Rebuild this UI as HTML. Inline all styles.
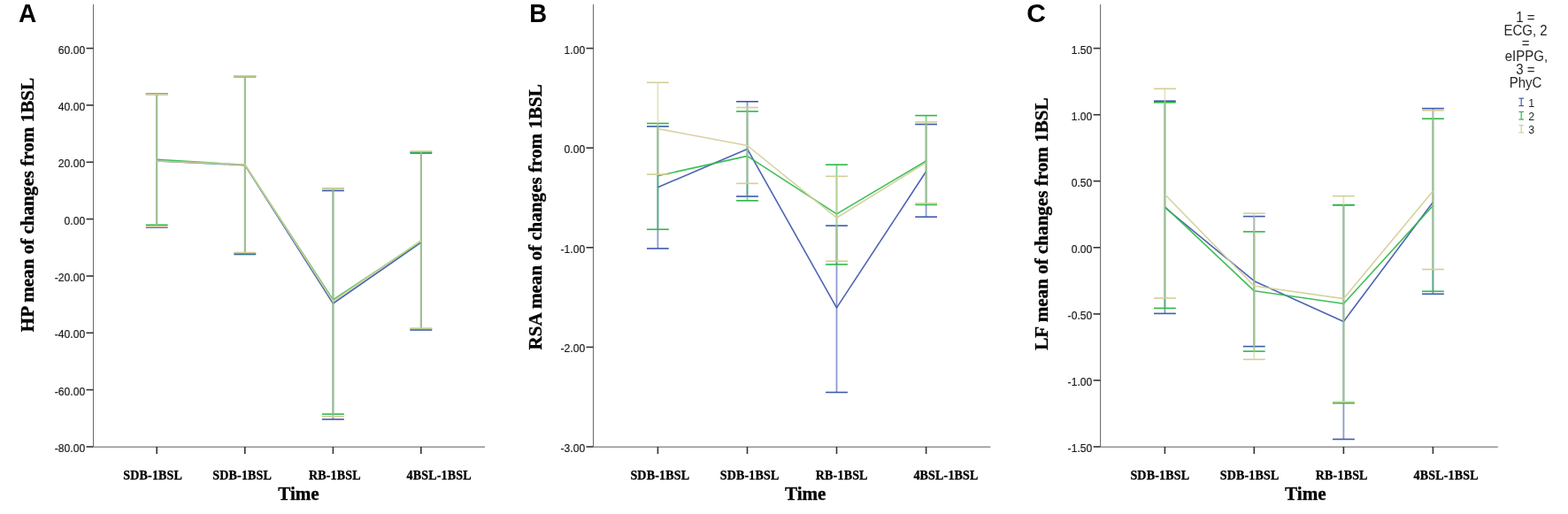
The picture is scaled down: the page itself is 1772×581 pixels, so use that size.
<!DOCTYPE html>
<html><head><meta charset="utf-8"><title>Mean changes from 1BSL</title>
<style>
html,body{margin:0;padding:0;background:#fff;}
body{width:1772px;height:581px;overflow:hidden;}
svg{display:block;}
.tl{font-family:"Liberation Sans",Arial,sans-serif;font-size:12.8px;fill:#1a1a1a;stroke:#1a1a1a;stroke-width:0.2px;}
.xl{font-family:"Liberation Serif","Times New Roman",serif;font-weight:bold;font-size:14px;letter-spacing:0.18px;fill:#000;stroke:#000;stroke-width:0.3px;}
.at{font-family:"Liberation Serif","Times New Roman",serif;font-weight:bold;font-size:21.1px;fill:#000;stroke:#000;stroke-width:0.35px;}
.pl{font-family:"Liberation Sans",Arial,sans-serif;font-weight:bold;font-size:28px;fill:#000;}
.lg{font-family:"Liberation Sans",Arial,sans-serif;font-size:15px;fill:#262626;}
.li{font-family:"Liberation Sans",Arial,sans-serif;font-size:12.4px;fill:#1e1e1e;}
</style></head><body>
<svg width="1772" height="581" viewBox="0 0 1772 581">
<rect width="1772" height="581" fill="#fff"/>
<g>
<text class="pl" transform="translate(21 24.8) scale(1 1.05)">A</text>
<line x1="105.5" y1="5" x2="105.5" y2="505" stroke="#6e6e6e" stroke-width="1.1"/>
<line x1="105.5" y1="505.15" x2="548" y2="505.15" stroke="#929292" stroke-width="1.5"/>
<line x1="97.5" y1="54.6" x2="105.5" y2="54.6" stroke="#333333" stroke-width="1.6"/>
<text class="tl" text-anchor="end" transform="translate(96.2 60.5) scale(0.95 1)">60.00</text>
<line x1="97.5" y1="118.9" x2="105.5" y2="118.9" stroke="#333333" stroke-width="1.6"/>
<text class="tl" text-anchor="end" transform="translate(96.2 124.8) scale(0.95 1)">40.00</text>
<line x1="97.5" y1="183.3" x2="105.5" y2="183.3" stroke="#333333" stroke-width="1.6"/>
<text class="tl" text-anchor="end" transform="translate(96.2 189.2) scale(0.95 1)">20.00</text>
<line x1="97.5" y1="247.6" x2="105.5" y2="247.6" stroke="#333333" stroke-width="1.6"/>
<text class="tl" text-anchor="end" transform="translate(96.2 253.5) scale(0.95 1)">0.00</text>
<line x1="97.5" y1="312" x2="105.5" y2="312" stroke="#333333" stroke-width="1.6"/>
<text class="tl" text-anchor="end" transform="translate(96.2 317.9) scale(0.95 1)">-20.00</text>
<line x1="97.5" y1="376.3" x2="105.5" y2="376.3" stroke="#333333" stroke-width="1.6"/>
<text class="tl" text-anchor="end" transform="translate(96.2 382.2) scale(0.95 1)">-40.00</text>
<line x1="97.5" y1="440.6" x2="105.5" y2="440.6" stroke="#333333" stroke-width="1.6"/>
<text class="tl" text-anchor="end" transform="translate(96.2 446.5) scale(0.95 1)">-60.00</text>
<line x1="97.5" y1="505" x2="105.5" y2="505" stroke="#333333" stroke-width="1.6"/>
<text class="tl" text-anchor="end" transform="translate(96.2 510.9) scale(0.95 1)">-80.00</text>
<line x1="177.2" y1="505" x2="177.2" y2="513" stroke="#333333" stroke-width="1.6"/>
<line x1="276.8" y1="505" x2="276.8" y2="513" stroke="#333333" stroke-width="1.6"/>
<line x1="376.4" y1="505" x2="376.4" y2="513" stroke="#333333" stroke-width="1.6"/>
<line x1="475.8" y1="505" x2="475.8" y2="513" stroke="#333333" stroke-width="1.6"/>
<text class="xl" x="139.3" y="542">SDB-1BSL</text>
<text class="xl" x="240.3" y="542">SDB-1BSL</text>
<text class="xl" x="348.9" y="542">RB-1BSL</text>
<text class="xl" x="459.5" y="542">4BSL-1BSL</text>
<text class="at" x="314.2" y="565.3">Time</text>
<text class="at" text-anchor="middle" transform="translate(38 231.6) rotate(-90)">HP mean of changes from 1BSL</text>
<line x1="177.2" y1="106.5" x2="177.2" y2="257" stroke="#3e58ac" stroke-width="1.8" stroke-opacity="0.6"/>
<line x1="164.8" y1="106.5" x2="189.6" y2="106.5" stroke="#3e58ac" stroke-width="1.6"/>
<line x1="164.8" y1="257" x2="189.6" y2="257" stroke="#3e58ac" stroke-width="1.6"/>
<line x1="276.8" y1="86.6" x2="276.8" y2="287.5" stroke="#3e58ac" stroke-width="1.8" stroke-opacity="0.6"/>
<line x1="264.4" y1="86.6" x2="289.2" y2="86.6" stroke="#3e58ac" stroke-width="1.6"/>
<line x1="264.4" y1="287.5" x2="289.2" y2="287.5" stroke="#3e58ac" stroke-width="1.6"/>
<line x1="376.4" y1="215.5" x2="376.4" y2="474" stroke="#3e58ac" stroke-width="1.8" stroke-opacity="0.6"/>
<line x1="364" y1="215.5" x2="388.8" y2="215.5" stroke="#3e58ac" stroke-width="1.6"/>
<line x1="364" y1="474" x2="388.8" y2="474" stroke="#3e58ac" stroke-width="1.6"/>
<line x1="475.8" y1="173" x2="475.8" y2="373" stroke="#3e58ac" stroke-width="1.8" stroke-opacity="0.6"/>
<line x1="463.4" y1="173" x2="488.2" y2="173" stroke="#3e58ac" stroke-width="1.6"/>
<line x1="463.4" y1="373" x2="488.2" y2="373" stroke="#3e58ac" stroke-width="1.6"/>
<polyline points="177.2,182 276.8,186.6 376.4,343 475.8,274" fill="none" stroke="#3e58ac" stroke-width="1.6" stroke-linejoin="round" stroke-opacity="0.92"/>
<line x1="177.2" y1="106" x2="177.2" y2="254.3" stroke="#2eb848" stroke-width="1.8" stroke-opacity="0.6"/>
<line x1="164.8" y1="106" x2="189.6" y2="106" stroke="#2eb848" stroke-width="1.6"/>
<line x1="164.8" y1="254.3" x2="189.6" y2="254.3" stroke="#2eb848" stroke-width="1.6"/>
<line x1="276.8" y1="86.4" x2="276.8" y2="286.5" stroke="#2eb848" stroke-width="1.8" stroke-opacity="0.6"/>
<line x1="264.4" y1="86.4" x2="289.2" y2="86.4" stroke="#2eb848" stroke-width="1.6"/>
<line x1="264.4" y1="286.5" x2="289.2" y2="286.5" stroke="#2eb848" stroke-width="1.6"/>
<line x1="376.4" y1="213.3" x2="376.4" y2="468.1" stroke="#2eb848" stroke-width="1.8" stroke-opacity="0.6"/>
<line x1="364" y1="213.3" x2="388.8" y2="213.3" stroke="#2eb848" stroke-width="1.6"/>
<line x1="364" y1="468.1" x2="388.8" y2="468.1" stroke="#2eb848" stroke-width="1.6"/>
<line x1="475.8" y1="172" x2="475.8" y2="372" stroke="#2eb848" stroke-width="1.8" stroke-opacity="0.6"/>
<line x1="463.4" y1="172" x2="488.2" y2="172" stroke="#2eb848" stroke-width="1.6"/>
<line x1="463.4" y1="372" x2="488.2" y2="372" stroke="#2eb848" stroke-width="1.6"/>
<polyline points="177.2,180.3 276.8,186.4 376.4,338.9 475.8,273" fill="none" stroke="#2eb848" stroke-width="1.6" stroke-linejoin="round" stroke-opacity="0.92"/>
<line x1="177.2" y1="106.6" x2="177.2" y2="256" stroke="#d3ce97" stroke-width="1.8" stroke-opacity="0.6"/>
<line x1="164.8" y1="106.6" x2="189.6" y2="106.6" stroke="#d3ce97" stroke-width="1.6"/>
<line x1="164.8" y1="256" x2="189.6" y2="256" stroke="#d3ce97" stroke-width="1.6"/>
<line x1="276.8" y1="86" x2="276.8" y2="285.5" stroke="#d3ce97" stroke-width="1.8" stroke-opacity="0.6"/>
<line x1="264.4" y1="86" x2="289.2" y2="86" stroke="#d3ce97" stroke-width="1.6"/>
<line x1="264.4" y1="285.5" x2="289.2" y2="285.5" stroke="#d3ce97" stroke-width="1.6"/>
<line x1="376.4" y1="213.2" x2="376.4" y2="470.8" stroke="#d3ce97" stroke-width="1.8" stroke-opacity="0.6"/>
<line x1="364" y1="213.2" x2="388.8" y2="213.2" stroke="#d3ce97" stroke-width="1.6"/>
<line x1="364" y1="470.8" x2="388.8" y2="470.8" stroke="#d3ce97" stroke-width="1.6"/>
<line x1="475.8" y1="171" x2="475.8" y2="371" stroke="#d3ce97" stroke-width="1.8" stroke-opacity="0.6"/>
<line x1="463.4" y1="171" x2="488.2" y2="171" stroke="#d3ce97" stroke-width="1.6"/>
<line x1="463.4" y1="371" x2="488.2" y2="371" stroke="#d3ce97" stroke-width="1.6"/>
<polyline points="177.2,182 276.8,186 376.4,340.5 475.8,272" fill="none" stroke="#d3ce97" stroke-width="1.6" stroke-linejoin="round" stroke-opacity="0.92"/>
</g>
<g>
<text class="pl" transform="translate(598.3 24.8) scale(0.98 1.05)">B</text>
<line x1="670.5" y1="5" x2="670.5" y2="505" stroke="#6e6e6e" stroke-width="1.1"/>
<line x1="670.5" y1="505.15" x2="1119.4" y2="505.15" stroke="#929292" stroke-width="1.5"/>
<line x1="662.5" y1="54.6" x2="670.5" y2="54.6" stroke="#333333" stroke-width="1.6"/>
<text class="tl" text-anchor="end" transform="translate(661.2 60.5) scale(0.95 1)">1.00</text>
<line x1="662.5" y1="167.2" x2="670.5" y2="167.2" stroke="#333333" stroke-width="1.6"/>
<text class="tl" text-anchor="end" transform="translate(661.2 173.1) scale(0.95 1)">0.00</text>
<line x1="662.5" y1="279.8" x2="670.5" y2="279.8" stroke="#333333" stroke-width="1.6"/>
<text class="tl" text-anchor="end" transform="translate(661.2 285.7) scale(0.95 1)">-1.00</text>
<line x1="662.5" y1="392.4" x2="670.5" y2="392.4" stroke="#333333" stroke-width="1.6"/>
<text class="tl" text-anchor="end" transform="translate(661.2 398.3) scale(0.95 1)">-2.00</text>
<line x1="662.5" y1="505" x2="670.5" y2="505" stroke="#333333" stroke-width="1.6"/>
<text class="tl" text-anchor="end" transform="translate(661.2 510.9) scale(0.95 1)">-3.00</text>
<line x1="743.4" y1="505" x2="743.4" y2="513" stroke="#333333" stroke-width="1.6"/>
<line x1="844.5" y1="505" x2="844.5" y2="513" stroke="#333333" stroke-width="1.6"/>
<line x1="945.5" y1="505" x2="945.5" y2="513" stroke="#333333" stroke-width="1.6"/>
<line x1="1046.6" y1="505" x2="1046.6" y2="513" stroke="#333333" stroke-width="1.6"/>
<text class="xl" x="712.4" y="542">SDB-1BSL</text>
<text class="xl" x="813.7" y="542">SDB-1BSL</text>
<text class="xl" x="921.8" y="542">RB-1BSL</text>
<text class="xl" x="1032.4" y="542">4BSL-1BSL</text>
<text class="at" x="887" y="565.3">Time</text>
<text class="at" text-anchor="middle" transform="translate(612.4 245.3) rotate(-90)">RSA mean of changes from 1BSL</text>
<line x1="743.4" y1="142.9" x2="743.4" y2="280.9" stroke="#3e58ac" stroke-width="1.8" stroke-opacity="0.6"/>
<line x1="731" y1="142.9" x2="755.8" y2="142.9" stroke="#3e58ac" stroke-width="1.6"/>
<line x1="731" y1="280.9" x2="755.8" y2="280.9" stroke="#3e58ac" stroke-width="1.6"/>
<line x1="844.5" y1="114.8" x2="844.5" y2="222" stroke="#3e58ac" stroke-width="1.8" stroke-opacity="0.6"/>
<line x1="832.1" y1="114.8" x2="856.9" y2="114.8" stroke="#3e58ac" stroke-width="1.6"/>
<line x1="832.1" y1="222" x2="856.9" y2="222" stroke="#3e58ac" stroke-width="1.6"/>
<line x1="945.5" y1="255.1" x2="945.5" y2="443.5" stroke="#3e58ac" stroke-width="1.8" stroke-opacity="0.6"/>
<line x1="933.1" y1="255.1" x2="957.9" y2="255.1" stroke="#3e58ac" stroke-width="1.6"/>
<line x1="933.1" y1="443.5" x2="957.9" y2="443.5" stroke="#3e58ac" stroke-width="1.6"/>
<line x1="1046.6" y1="140.5" x2="1046.6" y2="245.2" stroke="#3e58ac" stroke-width="1.8" stroke-opacity="0.6"/>
<line x1="1034.2" y1="140.5" x2="1059" y2="140.5" stroke="#3e58ac" stroke-width="1.6"/>
<line x1="1034.2" y1="245.2" x2="1059" y2="245.2" stroke="#3e58ac" stroke-width="1.6"/>
<polyline points="743.4,211.8 844.5,168.4 945.5,347.9 1046.6,193.8" fill="none" stroke="#3e58ac" stroke-width="1.6" stroke-linejoin="round" stroke-opacity="0.92"/>
<line x1="743.4" y1="139.5" x2="743.4" y2="259.3" stroke="#2eb848" stroke-width="1.8" stroke-opacity="0.6"/>
<line x1="731" y1="139.5" x2="755.8" y2="139.5" stroke="#2eb848" stroke-width="1.6"/>
<line x1="731" y1="259.3" x2="755.8" y2="259.3" stroke="#2eb848" stroke-width="1.6"/>
<line x1="844.5" y1="125.9" x2="844.5" y2="226.8" stroke="#2eb848" stroke-width="1.8" stroke-opacity="0.6"/>
<line x1="832.1" y1="125.9" x2="856.9" y2="125.9" stroke="#2eb848" stroke-width="1.6"/>
<line x1="832.1" y1="226.8" x2="856.9" y2="226.8" stroke="#2eb848" stroke-width="1.6"/>
<line x1="945.5" y1="186.2" x2="945.5" y2="298.9" stroke="#2eb848" stroke-width="1.8" stroke-opacity="0.6"/>
<line x1="933.1" y1="186.2" x2="957.9" y2="186.2" stroke="#2eb848" stroke-width="1.6"/>
<line x1="933.1" y1="298.9" x2="957.9" y2="298.9" stroke="#2eb848" stroke-width="1.6"/>
<line x1="1046.6" y1="130.6" x2="1046.6" y2="231.4" stroke="#2eb848" stroke-width="1.8" stroke-opacity="0.6"/>
<line x1="1034.2" y1="130.6" x2="1059" y2="130.6" stroke="#2eb848" stroke-width="1.6"/>
<line x1="1034.2" y1="231.4" x2="1059" y2="231.4" stroke="#2eb848" stroke-width="1.6"/>
<polyline points="743.4,198.8 844.5,176.4 945.5,241.9 1046.6,182" fill="none" stroke="#2eb848" stroke-width="1.6" stroke-linejoin="round" stroke-opacity="0.92"/>
<line x1="743.4" y1="93.3" x2="743.4" y2="197.1" stroke="#d3ce97" stroke-width="1.8" stroke-opacity="0.6"/>
<line x1="731" y1="93.3" x2="755.8" y2="93.3" stroke="#d3ce97" stroke-width="1.6"/>
<line x1="731" y1="197.1" x2="755.8" y2="197.1" stroke="#d3ce97" stroke-width="1.6"/>
<line x1="844.5" y1="121.5" x2="844.5" y2="207.4" stroke="#d3ce97" stroke-width="1.8" stroke-opacity="0.6"/>
<line x1="832.1" y1="121.5" x2="856.9" y2="121.5" stroke="#d3ce97" stroke-width="1.6"/>
<line x1="832.1" y1="207.4" x2="856.9" y2="207.4" stroke="#d3ce97" stroke-width="1.6"/>
<line x1="945.5" y1="199.3" x2="945.5" y2="295.2" stroke="#d3ce97" stroke-width="1.8" stroke-opacity="0.6"/>
<line x1="933.1" y1="199.3" x2="957.9" y2="199.3" stroke="#d3ce97" stroke-width="1.6"/>
<line x1="933.1" y1="295.2" x2="957.9" y2="295.2" stroke="#d3ce97" stroke-width="1.6"/>
<line x1="1046.6" y1="137.9" x2="1046.6" y2="229.9" stroke="#d3ce97" stroke-width="1.8" stroke-opacity="0.6"/>
<line x1="1034.2" y1="137.9" x2="1059" y2="137.9" stroke="#d3ce97" stroke-width="1.6"/>
<line x1="1034.2" y1="229.9" x2="1059" y2="229.9" stroke="#d3ce97" stroke-width="1.6"/>
<polyline points="743.4,145.5 844.5,164.5 945.5,246.2 1046.6,183.7" fill="none" stroke="#d3ce97" stroke-width="1.6" stroke-linejoin="round" stroke-opacity="0.92"/>
</g>
<g>
<text class="pl" transform="translate(1160.3 24.8) scale(1.07 1.05)">C</text>
<line x1="1243.6" y1="5" x2="1243.6" y2="505" stroke="#6e6e6e" stroke-width="1.1"/>
<line x1="1243.6" y1="505.15" x2="1692.8" y2="505.15" stroke="#929292" stroke-width="1.5"/>
<line x1="1235.6" y1="54.6" x2="1243.6" y2="54.6" stroke="#333333" stroke-width="1.6"/>
<text class="tl" text-anchor="end" transform="translate(1234.3 60.5) scale(0.95 1)">1.50</text>
<line x1="1235.6" y1="129.7" x2="1243.6" y2="129.7" stroke="#333333" stroke-width="1.6"/>
<text class="tl" text-anchor="end" transform="translate(1234.3 135.6) scale(0.95 1)">1.00</text>
<line x1="1235.6" y1="204.7" x2="1243.6" y2="204.7" stroke="#333333" stroke-width="1.6"/>
<text class="tl" text-anchor="end" transform="translate(1234.3 210.6) scale(0.95 1)">0.50</text>
<line x1="1235.6" y1="279.8" x2="1243.6" y2="279.8" stroke="#333333" stroke-width="1.6"/>
<text class="tl" text-anchor="end" transform="translate(1234.3 285.7) scale(0.95 1)">0.00</text>
<line x1="1235.6" y1="354.9" x2="1243.6" y2="354.9" stroke="#333333" stroke-width="1.6"/>
<text class="tl" text-anchor="end" transform="translate(1234.3 360.8) scale(0.95 1)">-0.50</text>
<line x1="1235.6" y1="429.9" x2="1243.6" y2="429.9" stroke="#333333" stroke-width="1.6"/>
<text class="tl" text-anchor="end" transform="translate(1234.3 435.8) scale(0.95 1)">-1.00</text>
<line x1="1235.6" y1="505" x2="1243.6" y2="505" stroke="#333333" stroke-width="1.6"/>
<text class="tl" text-anchor="end" transform="translate(1234.3 510.9) scale(0.95 1)">-1.50</text>
<line x1="1316.4" y1="505" x2="1316.4" y2="513" stroke="#333333" stroke-width="1.6"/>
<line x1="1417.3" y1="505" x2="1417.3" y2="513" stroke="#333333" stroke-width="1.6"/>
<line x1="1518.4" y1="505" x2="1518.4" y2="513" stroke="#333333" stroke-width="1.6"/>
<line x1="1619.4" y1="505" x2="1619.4" y2="513" stroke="#333333" stroke-width="1.6"/>
<text class="xl" x="1277.4" y="542">SDB-1BSL</text>
<text class="xl" x="1378.7" y="542">SDB-1BSL</text>
<text class="xl" x="1486.8" y="542">RB-1BSL</text>
<text class="xl" x="1597.6" y="542">4BSL-1BSL</text>
<text class="at" x="1452.1" y="565.3">Time</text>
<text class="at" text-anchor="middle" transform="translate(1184.1 253.1) rotate(-90)">LF mean of changes from 1BSL</text>
<line x1="1316.4" y1="114.2" x2="1316.4" y2="354.4" stroke="#3e58ac" stroke-width="1.8" stroke-opacity="0.6"/>
<line x1="1304" y1="114.2" x2="1328.8" y2="114.2" stroke="#3e58ac" stroke-width="1.6"/>
<line x1="1304" y1="354.4" x2="1328.8" y2="354.4" stroke="#3e58ac" stroke-width="1.6"/>
<line x1="1417.3" y1="244.6" x2="1417.3" y2="391.6" stroke="#3e58ac" stroke-width="1.8" stroke-opacity="0.6"/>
<line x1="1404.9" y1="244.6" x2="1429.7" y2="244.6" stroke="#3e58ac" stroke-width="1.6"/>
<line x1="1404.9" y1="391.6" x2="1429.7" y2="391.6" stroke="#3e58ac" stroke-width="1.6"/>
<line x1="1518.4" y1="231.7" x2="1518.4" y2="496.5" stroke="#3e58ac" stroke-width="1.8" stroke-opacity="0.6"/>
<line x1="1506" y1="231.7" x2="1530.8" y2="231.7" stroke="#3e58ac" stroke-width="1.6"/>
<line x1="1506" y1="496.5" x2="1530.8" y2="496.5" stroke="#3e58ac" stroke-width="1.6"/>
<line x1="1619.4" y1="122.6" x2="1619.4" y2="332.3" stroke="#3e58ac" stroke-width="1.8" stroke-opacity="0.6"/>
<line x1="1607" y1="122.6" x2="1631.8" y2="122.6" stroke="#3e58ac" stroke-width="1.6"/>
<line x1="1607" y1="332.3" x2="1631.8" y2="332.3" stroke="#3e58ac" stroke-width="1.6"/>
<polyline points="1316.4,234.5 1417.3,317.7 1518.4,363.4 1619.4,228.4" fill="none" stroke="#3e58ac" stroke-width="1.6" stroke-linejoin="round" stroke-opacity="0.92"/>
<line x1="1316.4" y1="115.8" x2="1316.4" y2="348.4" stroke="#2eb848" stroke-width="1.8" stroke-opacity="0.6"/>
<line x1="1304" y1="115.8" x2="1328.8" y2="115.8" stroke="#2eb848" stroke-width="1.6"/>
<line x1="1304" y1="348.4" x2="1328.8" y2="348.4" stroke="#2eb848" stroke-width="1.6"/>
<line x1="1417.3" y1="261.9" x2="1417.3" y2="397.1" stroke="#2eb848" stroke-width="1.8" stroke-opacity="0.6"/>
<line x1="1404.9" y1="261.9" x2="1429.7" y2="261.9" stroke="#2eb848" stroke-width="1.6"/>
<line x1="1404.9" y1="397.1" x2="1429.7" y2="397.1" stroke="#2eb848" stroke-width="1.6"/>
<line x1="1518.4" y1="231.7" x2="1518.4" y2="455.7" stroke="#2eb848" stroke-width="1.8" stroke-opacity="0.6"/>
<line x1="1506" y1="231.7" x2="1530.8" y2="231.7" stroke="#2eb848" stroke-width="1.6"/>
<line x1="1506" y1="455.7" x2="1530.8" y2="455.7" stroke="#2eb848" stroke-width="1.6"/>
<line x1="1619.4" y1="134.2" x2="1619.4" y2="329.3" stroke="#2eb848" stroke-width="1.8" stroke-opacity="0.6"/>
<line x1="1607" y1="134.2" x2="1631.8" y2="134.2" stroke="#2eb848" stroke-width="1.6"/>
<line x1="1607" y1="329.3" x2="1631.8" y2="329.3" stroke="#2eb848" stroke-width="1.6"/>
<polyline points="1316.4,233.6 1417.3,328.8 1518.4,343.2 1619.4,232.5" fill="none" stroke="#2eb848" stroke-width="1.6" stroke-linejoin="round" stroke-opacity="0.92"/>
<line x1="1316.4" y1="100.3" x2="1316.4" y2="337" stroke="#d3ce97" stroke-width="1.8" stroke-opacity="0.6"/>
<line x1="1304" y1="100.3" x2="1328.8" y2="100.3" stroke="#d3ce97" stroke-width="1.6"/>
<line x1="1304" y1="337" x2="1328.8" y2="337" stroke="#d3ce97" stroke-width="1.6"/>
<line x1="1417.3" y1="241.2" x2="1417.3" y2="406.3" stroke="#d3ce97" stroke-width="1.8" stroke-opacity="0.6"/>
<line x1="1404.9" y1="241.2" x2="1429.7" y2="241.2" stroke="#d3ce97" stroke-width="1.6"/>
<line x1="1404.9" y1="406.3" x2="1429.7" y2="406.3" stroke="#d3ce97" stroke-width="1.6"/>
<line x1="1518.4" y1="221.6" x2="1518.4" y2="454.3" stroke="#d3ce97" stroke-width="1.8" stroke-opacity="0.6"/>
<line x1="1506" y1="221.6" x2="1530.8" y2="221.6" stroke="#d3ce97" stroke-width="1.6"/>
<line x1="1506" y1="454.3" x2="1530.8" y2="454.3" stroke="#d3ce97" stroke-width="1.6"/>
<line x1="1619.4" y1="124.8" x2="1619.4" y2="304.5" stroke="#d3ce97" stroke-width="1.8" stroke-opacity="0.6"/>
<line x1="1607" y1="124.8" x2="1631.8" y2="124.8" stroke="#d3ce97" stroke-width="1.6"/>
<line x1="1607" y1="304.5" x2="1631.8" y2="304.5" stroke="#d3ce97" stroke-width="1.6"/>
<polyline points="1316.4,219.8 1417.3,323.2 1518.4,337.6 1619.4,216" fill="none" stroke="#d3ce97" stroke-width="1.6" stroke-linejoin="round" stroke-opacity="0.92"/>
</g>
<text class="lg" text-anchor="middle" transform="translate(1724 24.5) scale(1 1.1)">1 =</text>
<text class="lg" text-anchor="middle" transform="translate(1724 40.1) scale(1 1.1)">ECG, 2</text>
<text class="lg" text-anchor="middle" transform="translate(1724 54) scale(1 1.1)">=</text>
<text class="lg" text-anchor="middle" transform="translate(1724.9 68.8) scale(1 1.1)">eIPPG,</text>
<text class="lg" text-anchor="middle" transform="translate(1724 83.7) scale(1 1.1)">3 =</text>
<text class="lg" text-anchor="middle" transform="translate(1724 99.1) scale(1 1.1)">PhyC</text>
<line x1="1719.2" y1="111.2" x2="1719.2" y2="119.6" stroke="#3e58ac" stroke-width="1.2"/>
<line x1="1716.4" y1="111.2" x2="1722" y2="111.2" stroke="#3e58ac" stroke-width="1.2"/>
<line x1="1716.4" y1="119.6" x2="1722" y2="119.6" stroke="#3e58ac" stroke-width="1.2"/>
<text class="li" x="1727.2" y="120.9">1</text>
<line x1="1719.2" y1="126.4" x2="1719.2" y2="135" stroke="#2eb848" stroke-width="1.2"/>
<line x1="1716.4" y1="126.4" x2="1722" y2="126.4" stroke="#2eb848" stroke-width="1.2"/>
<line x1="1716.4" y1="135" x2="1722" y2="135" stroke="#2eb848" stroke-width="1.2"/>
<text class="li" x="1727.2" y="135.9">2</text>
<line x1="1719.2" y1="141.6" x2="1719.2" y2="149.9" stroke="#d3ce97" stroke-width="1.2"/>
<line x1="1716.4" y1="141.6" x2="1722" y2="141.6" stroke="#d3ce97" stroke-width="1.2"/>
<line x1="1716.4" y1="149.9" x2="1722" y2="149.9" stroke="#d3ce97" stroke-width="1.2"/>
<text class="li" x="1727.2" y="150.8">3</text>
</svg>
</body></html>
